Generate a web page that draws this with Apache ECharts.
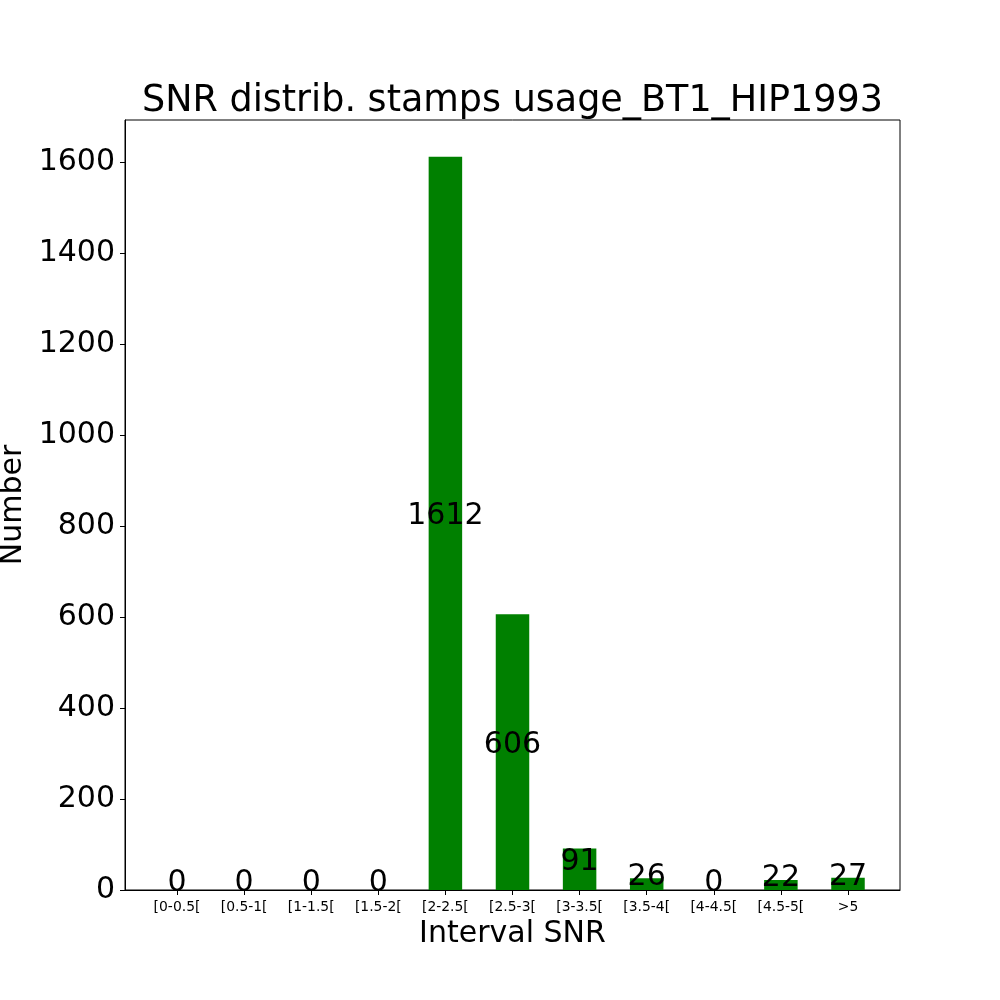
<!DOCTYPE html>
<html>
<head>
<meta charset="utf-8">
<script src="https://cdn.jsdelivr.net/npm/echarts@6/dist/echarts.min.js"></script>
<style>html,body{margin:0;padding:0;background:#fff}#c{width:1000px;height:1000px}</style>
</head>
<body>
<div id="c"></div>
<script>
const categories = ['[0-0.5[', '[0.5-1[', '[1-1.5[', '[1.5-2[', '[2-2.5[', '[2.5-3[', '[3-3.5[', '[3.5-4[', '[4-4.5[', '[4.5-5[', '>5'];
const counts = [0, 0, 0, 0, 1612, 606, 91, 26, 0, 22, 27];
const yTicks = [0, 200, 400, 600, 800, 1000, 1200, 1400, 1600];
const titleText = 'SNR distrib. stamps usage_BT1_HIP1993';

const FONT = 'DejaVu Sans';
const xPositions = categories.map((c, i) => i);
const barData = counts.map((v, i) => [i, v]);
const yMax = Math.max(...counts) * 1.05;

const chart = echarts.init(document.getElementById('c'), null, {renderer: 'canvas'});
chart.setOption({
  backgroundColor: '#ffffff',
  animation: false,
  textStyle: {fontFamily: FONT},
  title: {
    text: titleText,
    left: 512.5,
    textAlign: 'center',
    top: 83,
    padding: 0,
    textStyle: {fontFamily: FONT, fontSize: 36.5, fontWeight: 'normal', color: '#000'}
  },
  grid: {
    left: 125, right: 100, top: 120, bottom: 110,
    show: true, borderColor: '#000', borderWidth: 1, backgroundColor: '#fff',
    containLabel: false,
    outerBoundsMode: 'none'
  },
  xAxis: {
    type: 'value',
    min: -0.775,
    max: 10.775,
    name: 'Interval SNR',
    nameLocation: 'middle',
    nameGap: 23,
    nameTextStyle: {fontFamily: FONT, fontSize: 30, color: '#000', verticalAlign: 'top'},
    axisLine: {show: true, onZero: false, lineStyle: {color: '#000', width: 1}},
    axisTick: {show: true, length: 5, customValues: xPositions, lineStyle: {color: '#000'}},
    axisLabel: {
      show: true, customValues: xPositions, margin: 10,
      fontFamily: FONT, fontSize: 13.9, color: '#000',
      formatter: v => categories[Math.round(v)] || ''
    },
    splitLine: {show: false}
  },
  yAxis: {
    type: 'value',
    min: 0,
    max: yMax,
    name: 'Number',
    nameLocation: 'middle',
    nameGap: 88,
    nameTextStyle: {fontFamily: FONT, fontSize: 30, color: '#000'},
    axisLine: {show: true, onZero: false, lineStyle: {color: '#000', width: 1}},
    axisTick: {show: true, length: 5, customValues: yTicks, lineStyle: {color: '#000'}},
    axisLabel: {
      show: true, customValues: yTicks, margin: 10,
      fontFamily: FONT, fontSize: 30, color: '#000',
      formatter: v => String(Math.round(v))
    },
    splitLine: {show: false}
  },
  series: [{
    type: 'bar',
    data: barData,
    barWidth: 33.5,
    itemStyle: {color: '#008000', borderWidth: 0},
    label: {
      show: true,
      position: 'inside',
      offset: [0, -7],
      fontFamily: FONT,
      fontSize: 30,
      color: '#000',
      formatter: p => String(p.value[1])
    }
  }]
});
</script>
</body>
</html>
